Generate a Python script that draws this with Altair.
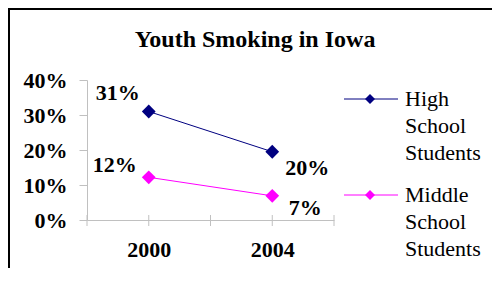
import altair as alt
import pandas as pd

title = "Youth Smoking in Iowa"
years = [2000, 2004]
series = ["High School Students", "Middle School Students"]
high_school = [31, 19.5]
middle_school = [12.2, 6.9]
high_labels = ["31%", "20%"]
middle_labels = ["12%", "7%"]
y_ticks = [0, 10, 20, 30, 40]
x_ticks = [1998, 2000, 2002, 2004, 2006]
colors = ["#000080", "#ff00ff"]

rows = []
for s, vals, labs in zip(series, [high_school, middle_school], [high_labels, middle_labels]):
    for yr, v, lab in zip(years, vals, labs):
        rows.append({"series": s, "year": yr, "value": v, "label": lab})
df = pd.DataFrame(rows)

W, H = 247, 140
PAD_L, PAD_T, PAD_R, PAD_B = 79, 72, 158, 48
FONT = "'Liberation Serif', 'Times New Roman', Times, serif"
GRAY = "#c0c0c0"

xscale = alt.Scale(domain=[1998, 2006], nice=False, zero=False)
yscale = alt.Scale(domain=[0, 40], nice=False)

xaxis = alt.Axis(values=years, format="d", title=None, grid=False, ticks=False,
                 tickSize=0, labelPadding=19, labelFont=FONT, labelFontSize=22,
                 labelFontWeight="bold", labelColor="black", domainColor=GRAY)
x = alt.X("year:Q", scale=xscale, axis=xaxis)
y = alt.Y("value:Q", scale=yscale,
          axis=alt.Axis(values=y_ticks, labelExpr="datum.value + '%'", title=None, grid=False,
                        tickSize=8, tickColor=GRAY, domainColor=GRAY, labelPadding=12,
                        labelFont=FONT, labelFontSize=22, labelFontWeight="bold",
                        labelColor="black"))
color = alt.Color("series:N", scale=alt.Scale(domain=series, range=colors), legend=None)

base = alt.Chart(df)
lines = base.mark_line(strokeWidth=1).encode(x=x, y=y, color=color)
points = base.mark_point(shape="diamond", filled=True, size=190, opacity=1).encode(x=x, y=y, color=color)

xticks = alt.Chart(pd.DataFrame({"year": x_ticks})).mark_rule(color=GRAY, strokeWidth=1).encode(
    x=x, y=alt.value(H - 5), y2=alt.value(H + 6))

offsets = {
    (series[0], years[0]): (-31, -19),
    (series[0], years[1]): (35, 16),
    (series[1], years[0]): (-34, -12),
    (series[1], years[1]): (33, 12),
}
label_layers = []
for (s, yr), (ddx, ddy) in offsets.items():
    label_layers.append(
        base.transform_filter((alt.datum.series == s) & (alt.datum.year == yr))
        .mark_text(font=FONT, fontSize=22, fontWeight="bold", color="black",
                   align="center", baseline="middle", dx=ddx, dy=ddy)
        .encode(x=x, y=y, text="label:N"))

title_layer = alt.Chart(pd.DataFrame({"t": [title]})).mark_text(
    font=FONT, fontSize=24, fontWeight="bold", color="black", align="center",
    baseline="alphabetic").encode(x=alt.value(168), y=alt.value(-33), text="t:N")

border_left = alt.Chart(pd.DataFrame({"a": [0]})).mark_rule(color="black", strokeWidth=2).encode(
    x=alt.value(-78), y=alt.value(-72), y2=alt.value(H + PAD_B))
border_top = alt.Chart(pd.DataFrame({"a": [0]})).mark_rule(color="black", strokeWidth=2).encode(
    x=alt.value(-79), x2=alt.value(W + PAD_R), y=alt.value(-71))

legend_layers = []
legend_y = [19, 115]
for s, c, ly in zip(series, colors, legend_y):
    d = pd.DataFrame({"series": [s]})
    legend_layers.append(alt.Chart(d).mark_rule(color=c, strokeWidth=1).encode(
        x=alt.value(257), x2=alt.value(311), y=alt.value(ly)))
    legend_layers.append(alt.Chart(d).mark_point(shape="diamond", filled=True, size=100,
                                                 opacity=1, color=c).encode(
        x=alt.value(283), y=alt.value(ly)))
    legend_layers.append(alt.Chart(d).mark_text(font=FONT, fontSize=22, color="black",
                                                align="left", baseline="alphabetic",
                                                lineBreak=" ", lineHeight=27).encode(
        x=alt.value(318), y=alt.value(ly + 7), text="series:N"))

chart = alt.layer(
    border_left, border_top, xticks, lines, points, *label_layers, title_layer, *legend_layers
).properties(
    width=W, height=H,
    autosize=alt.AutoSizeParams(type="none"),
    padding={"left": PAD_L, "top": PAD_T, "right": PAD_R, "bottom": PAD_B},
    background="white",
).configure_view(stroke=None)

chart.save("out.html", embed_options={"renderer": "svg", "actions": False})
